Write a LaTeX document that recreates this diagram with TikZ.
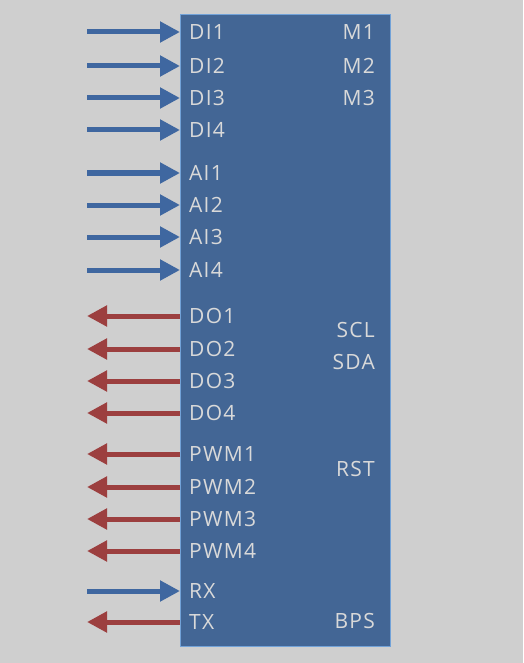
\documentclass[tikz,border=0pt]{standalone}
\usepackage{fontspec}
\setmainfont{Open Sans}[LetterSpace=6]
\usetikzlibrary{arrows.meta}
\definecolor{bg}{HTML}{CFCFCF}
\definecolor{boxblue}{HTML}{436695}
\definecolor{boxedge}{HTML}{72A2D8}
\definecolor{inblue}{HTML}{3F67A0}
\definecolor{outred}{HTML}{9C3F3F}
\tikzset{
  lbl/.style={text=white!85!black, font=\fontsize{21}{24}\selectfont, inner sep=0pt},
  leftlbl/.style={lbl, anchor=west},
  rightlbl/.style={lbl, anchor=east},
  inarrow/.style={draw=inblue, line width=5pt, -{Triangle[length=20pt,width=20pt]}},
  outarrow/.style={draw=outred, line width=5pt, -{Triangle[length=20pt,width=20pt]}},
}
\begin{document}
\begin{tikzpicture}[x=1pt,y=-1pt]
\fill[bg] (0,0) rectangle (523,663);
\useasboundingbox (0,0) rectangle (523,663);
\node[draw=boxedge, fill=boxblue, line width=1pt, minimum width=210pt, minimum height=632pt, inner sep=0pt, anchor=north west] (chip) at (180,14) {};
% left inputs
\foreach \n/\t/\y in {di1/DI1/32, di2/DI2/66, di3/DI3/98, di4/DI4/130, ai1/AI1/173, ai2/AI2/205, ai3/AI3/237, ai4/AI4/270, rx/RX/591}{
  \node[leftlbl] (\n) at (189,\y) {\t};
  \coordinate (\n s) at (87,\y);
  \coordinate (\n e) at (chip.west |- \n);
  \draw[inarrow] (\n s) -- (\n e);
}
% left outputs
\foreach \n/\t/\y in {do1/DO1/316, do2/DO2/349, do3/DO3/381, do4/DO4/413, pwm1/PWM1/454, pwm2/PWM2/487, pwm3/PWM3/519, pwm4/PWM4/551, tx/TX/622}{
  \node[leftlbl] (\n) at (189,\y) {\t};
  \coordinate (\n s) at (chip.west |- \n);
  \coordinate (\n e) at (87,\y);
  \draw[outarrow] (\n s) -- (\n e);
}
% right labels
\foreach \n/\t/\y in {m1/M1/32, m2/M2/66, m3/M3/98, scl/SCL/330, sda/SDA/362, rst/RST/469, bps/BPS/621}{
  \node[rightlbl] (\n) at (375,\y) {\t};
}
\end{tikzpicture}
\end{document}
